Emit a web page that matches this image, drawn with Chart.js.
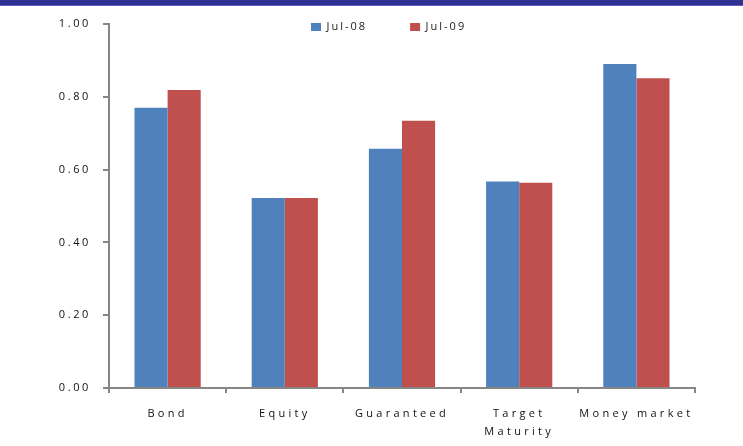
<!DOCTYPE html>
<html>
<head>
<meta charset="utf-8">
<script src="https://cdn.jsdelivr.net/npm/chart.js@4/dist/chart.umd.min.js"></script>
<style>
    html, body { margin: 0; padding: 0; background: #fff; }
    #wrap { position: relative; width: 743px; height: 446px; }
    #band { position: absolute; left: 0; top: 0; width: 743px; height: 5px; background: #2e3192; border-bottom: 1px solid #5d60c2; }
</style>
</head>
<body>
<div id="wrap">
    <canvas id="graficoFundos" width="743" height="446"></canvas>
    <div id="band"></div>
</div>
<script>
const categorias = ['Bond', 'Equity', 'Guaranteed', ['Target', 'Maturity'], 'Money market'];
const serieJul08 = [0.77, 0.522, 0.657, 0.567, 0.89];
const serieJul09 = [0.819, 0.522, 0.734, 0.564, 0.851];
const rotulosSeries = ['Jul-08', 'Jul-09'];
const ticksY = [0, 0.2, 0.4, 0.6, 0.8, 1.0];

const corEixo = '#868686';
const fonte = '"Open Sans", sans-serif';

// wraps a scale's label drawing so it uses its own letter spacing
function espacarRotulos(chart, escala, espaco) {
    if (escala._espacado) return;
    const orig = escala.drawLabels.bind(escala);
    escala.drawLabels = (area) => {
        chart.ctx.save();
        chart.ctx.letterSpacing = espaco;
        orig(area);
        chart.ctx.restore();
    };
    escala._espacado = true;
}

// legend takes no vertical room and letter spacing for the canvas text
const ajustes = {
    id: 'ajustes',
    beforeLayout(chart) {
        const lg = chart.legend;
        if (lg && !lg._semAltura) {
            const fit = lg.fit.bind(lg);
            lg.fit = () => { fit(); lg.height = 0; };
            lg._semAltura = true;
        }
    },
    afterLayout(chart) {
        espacarRotulos(chart, chart.scales.x, '3.3px');
        espacarRotulos(chart, chart.scales.y, '2.6px');
        const lg = chart.legend;
        const pad = lg.options.labels.padding;
        lg.left = 311 - pad;
        lg.right = lg.left + 400;
        lg.top = 21.5 - pad;
        lg.bottom = lg.top + pad + 30;
    },
    beforeDraw(chart) {
        chart.ctx.letterSpacing = '2px';
    }
};

function initChart() {
    const ctx = document.getElementById('graficoFundos').getContext('2d');
    window.fundosChart = new Chart(ctx, {
        type: 'bar',
        data: {
            labels: categorias,
            datasets: [{
                label: rotulosSeries[0],
                data: serieJul08,
                backgroundColor: '#4f81bd',
                categoryPercentage: 0.565,
                barPercentage: 1
            }, {
                label: rotulosSeries[1],
                data: serieJul09,
                backgroundColor: '#c0504d',
                categoryPercentage: 0.565,
                barPercentage: 1
            }]
        },
        options: {
            responsive: false,
            animation: false,
            layout: { padding: { left: 0, right: 48, top: 24, bottom: 0 } },
            plugins: {
                legend: {
                    position: 'top',
                    align: 'start',
                    labels: {
                        boxWidth: 10,
                        boxHeight: 8,
                        padding: 43,
                        color: '#222',
                        font: { family: fonte, size: 11 }
                    }
                },
                tooltip: { enabled: false }
            },
            scales: {
                x: {
                    afterFit: (s) => { s.height = 58; },
                    border: { color: corEixo, width: 2 },
                    grid: { display: true, drawOnChartArea: false, offset: true, color: corEixo, lineWidth: 2, tickLength: 5 },
                    ticks: {
                        color: '#111',
                        padding: 12,
                        maxRotation: 0,
                        autoSkip: false,
                        font: { family: fonte, size: 11, lineHeight: 1.6 }
                    }
                },
                y: {
                    min: 0,
                    max: 1,
                    afterFit: (s) => { s.width = 109; },
                    afterBuildTicks: (s) => { s.ticks = ticksY.map(v => ({ value: v })); },
                    border: { color: corEixo, width: 2 },
                    grid: { display: true, drawOnChartArea: false, color: corEixo, lineWidth: 2, tickLength: 6 },
                    ticks: {
                        color: '#111',
                        padding: 12,
                        font: { family: fonte, size: 11 },
                        callback: (v) => Number(v).toFixed(2)
                    }
                }
            }
        },
        plugins: [ajustes]
    });
}

document.addEventListener('DOMContentLoaded', initChart);
</script>
</body>
</html>
